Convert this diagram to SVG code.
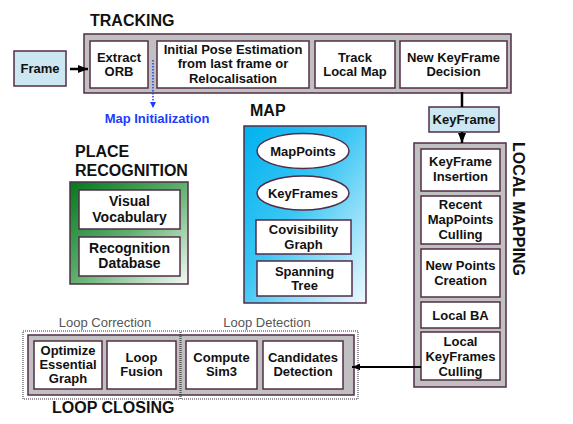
<svg xmlns="http://www.w3.org/2000/svg" width="573" height="424" viewBox="0 0 573 424">
<defs>
<linearGradient id="gMap" x1="0" y1="0" x2="1" y2="1">
<stop offset="0" stop-color="#00b2ef"/>
<stop offset="0.45" stop-color="#3cc6f4"/>
<stop offset="1" stop-color="#eef9fe"/>
</linearGradient>
<linearGradient id="gPR" x1="0" y1="0" x2="1" y2="1">
<stop offset="0" stop-color="#00791c"/>
<stop offset="0.5" stop-color="#5fb06e"/>
<stop offset="1" stop-color="#f4faf5"/>
</linearGradient>
<marker id="ah" viewBox="0 0 10 10" refX="10" refY="5" markerWidth="4" markerHeight="4" orient="auto" markerUnits="strokeWidth">
<path d="M0,1 L10,5 L0,9 Z" fill="#000"/>
</marker>
<marker id="ahb" viewBox="0 0 10 10" refX="10" refY="5" markerWidth="4" markerHeight="5" orient="auto" markerUnits="strokeWidth">
<path d="M0,0 L10,5 L0,10 Z" fill="#1a3cff"/>
</marker>
</defs>
<style>
text{font-family:"Liberation Sans",Arial,sans-serif;font-weight:bold;fill:#111;}
.t{font-size:13px;text-anchor:middle;}
.t14{font-size:14px;text-anchor:middle;}
.h{font-size:16px;}
.g{font-size:13px;font-weight:normal;fill:#555;text-anchor:middle;}
.outer{fill:#c0c0c0;stroke:#522c47;stroke-width:1.5;}
.box{fill:#fff;stroke:#522c47;stroke-width:1.5;}
.blue{fill:#cce6f2;stroke:#522c47;stroke-width:1.5;}
.dot{fill:none;stroke:#333;stroke-width:1;stroke-dasharray:1 1;}
</style>

<!-- TRACKING -->
<g id="tracking">
<text class="h" x="90" y="26">TRACKING</text>
<rect class="outer" x="84" y="34" width="427" height="59"/>
</g>
<g id="frame">
<rect class="blue" x="14" y="51" width="52" height="35"/>
<text class="t" x="40" y="73">Frame</text>
</g>
<g id="extract-orb">
<rect class="box" x="90" y="41" width="58" height="47"/>
<text class="t" x="119" y="61.5">Extract</text>
<text class="t" x="119" y="76">ORB</text>
</g>
<g id="initial-pose">
<rect class="box" x="157" y="41" width="152" height="47"/>
<text class="t" x="233" y="53.5">Initial Pose Estimation</text>
<text class="t" x="233" y="68">from last frame or</text>
<text class="t" x="233" y="82.5">Relocalisation</text>
</g>
<g id="track-local-map">
<rect class="box" x="315" y="41" width="80" height="47"/>
<text class="t" x="355" y="61.5">Track</text>
<text class="t" x="355" y="76">Local Map</text>
</g>
<g id="new-keyframe-decision">
<rect class="box" x="400" y="41" width="107" height="47"/>
<text class="t" x="453.5" y="61.5">New KeyFrame</text>
<text class="t" x="453.5" y="76">Decision</text>
</g>
<g id="map-init">
<text class="t" x="157" y="123" style="fill:#1a3cff">Map Initialization</text>
</g>

<!-- PLACE RECOGNITION -->
<g id="place-recognition">
<text class="h" x="75" y="157">PLACE</text>
<text class="h" x="75" y="176">RECOGNITION</text>
<rect x="70" y="182" width="118" height="102" fill="url(#gPR)" stroke="#522c47" stroke-width="1.5"/>
</g>
<g id="visual-vocabulary">
<rect class="box" x="79" y="190" width="101" height="39"/>
<text class="t14" x="129.5" y="206">Visual</text>
<text class="t14" x="129.5" y="221.5">Vocabulary</text>
</g>
<g id="recognition-database">
<rect class="box" x="79" y="237" width="101" height="39"/>
<text class="t14" x="129.5" y="252.5">Recognition</text>
<text class="t14" x="129.5" y="268">Database</text>
</g>

<!-- MAP -->
<g id="map">
<text class="h" x="250" y="116">MAP</text>
<rect x="244" y="126" width="122" height="177" fill="url(#gMap)" stroke="#522c47" stroke-width="1.5"/>
</g>
<g id="mappoints">
<ellipse cx="303" cy="151" rx="46" ry="17.5" fill="#fff" stroke="#522c47" stroke-width="1.5"/>
<text class="t" x="303" y="155.5">MapPoints</text>
</g>
<g id="keyframes">
<ellipse cx="303" cy="193" rx="46" ry="17" fill="#fff" stroke="#522c47" stroke-width="1.5"/>
<text class="t" x="303" y="197.5">KeyFrames</text>
</g>
<g id="covisibility-graph">
<rect class="box" x="256" y="220" width="95" height="34"/>
<text class="t" x="303.5" y="233.5">Covisibility</text>
<text class="t" x="303.5" y="248.5">Graph</text>
</g>
<g id="spanning-tree">
<rect class="box" x="257" y="261" width="95" height="35"/>
<text class="t" x="304.5" y="275.5">Spanning</text>
<text class="t" x="304.5" y="290">Tree</text>
</g>

<!-- LOCAL MAPPING -->
<g id="keyframe">
<rect class="blue" x="429" y="107" width="70" height="25"/>
<text class="t" x="464" y="123.5">KeyFrame</text>
</g>
<g id="local-mapping">
<rect class="outer" x="414" y="143" width="92" height="244"/>
<text class="h" transform="translate(513,209) rotate(90)" text-anchor="middle">LOCAL MAPPING</text>
</g>
<g id="keyframe-insertion">
<rect class="box" x="421" y="149" width="79" height="42"/>
<text class="t" x="460.5" y="166">KeyFrame</text>
<text class="t" x="460.5" y="181">Insertion</text>
</g>
<g id="recent-mappoints-culling">
<rect class="box" x="421" y="196" width="79" height="48"/>
<text class="t" x="460.5" y="209">Recent</text>
<text class="t" x="460.5" y="223.5">MapPoints</text>
<text class="t" x="460.5" y="238.5">Culling</text>
</g>
<g id="new-points-creation">
<rect class="box" x="421" y="249" width="79" height="48"/>
<text class="t" x="460.5" y="270">New Points</text>
<text class="t" x="460.5" y="285">Creation</text>
</g>
<g id="local-ba">
<rect class="box" x="421" y="302" width="79" height="26"/>
<text class="t" x="460.5" y="320">Local BA</text>
</g>
<g id="local-keyframes-culling">
<rect class="box" x="421" y="332" width="79" height="48"/>
<text class="t" x="460.5" y="346">Local</text>
<text class="t" x="460.5" y="360.5">KeyFrames</text>
<text class="t" x="460.5" y="375.5">Culling</text>
</g>

<!-- LOOP CLOSING -->
<g id="loop-closing">
<text class="g" x="105" y="327">Loop Correction</text>
<text class="g" x="267" y="327">Loop Detection</text>
<rect class="outer" x="28" y="335" width="326" height="60"/>
<rect class="dot" x="23" y="331" width="157" height="68"/>
<rect class="dot" x="181" y="331" width="177" height="68"/>
<text class="h" x="52" y="413">LOOP CLOSING</text>
</g>
<g id="optimize-essential-graph">
<rect class="box" x="34" y="341" width="68" height="48"/>
<text class="t" x="68" y="355">Optimize</text>
<text class="t" x="68" y="368.5">Essential</text>
<text class="t" x="68" y="382.5">Graph</text>
</g>
<g id="loop-fusion">
<rect class="box" x="107" y="341" width="69" height="48"/>
<text class="t" x="141.5" y="362">Loop</text>
<text class="t" x="141.5" y="376">Fusion</text>
</g>
<g id="compute-sim3">
<rect class="box" x="186" y="341" width="71" height="48"/>
<text class="t" x="221.5" y="362">Compute</text>
<text class="t" x="221.5" y="376">Sim3</text>
</g>
<g id="candidates-detection">
<rect class="box" x="263" y="341" width="80" height="48"/>
<text class="t" x="303" y="362">Candidates</text>
<text class="t" x="303" y="376">Detection</text>
</g>

<!-- CONNECTORS -->
<g id="connectors" fill="none">
<line x1="70" y1="69" x2="88" y2="69" stroke="#000" stroke-width="2.5" marker-end="url(#ah)"/>
<line x1="153" y1="60" x2="153" y2="108" stroke="#1a3cff" stroke-width="1.5" stroke-dasharray="1.5 1.5" marker-end="url(#ahb)"/>
<line x1="462" y1="92" x2="462" y2="107" stroke="#000" stroke-width="2.5"/>
<line x1="462" y1="132" x2="462" y2="143" stroke="#000" stroke-width="2.5" marker-end="url(#ah)"/>
<line x1="421" y1="367" x2="352" y2="367" stroke="#000" stroke-width="2" marker-end="url(#ah)"/>
</g>
</svg>
